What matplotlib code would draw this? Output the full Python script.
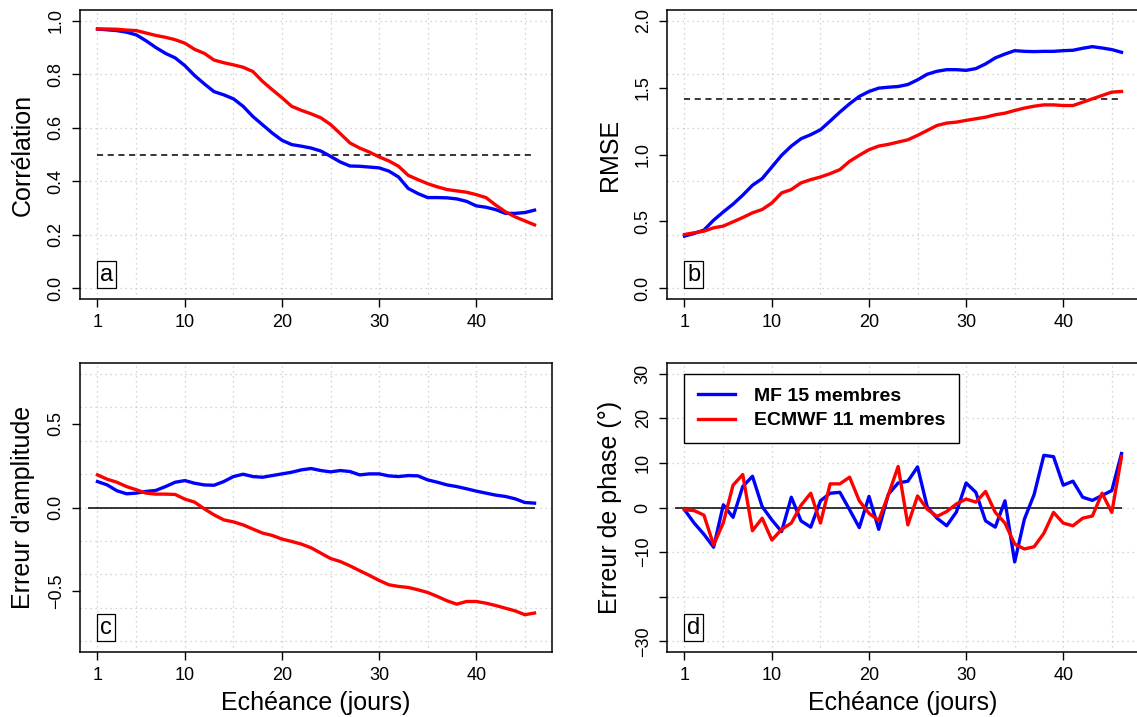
import matplotlib
matplotlib.use("Agg")
import matplotlib.pyplot as plt
import numpy as np

plt.rcParams["font.family"] = ["Liberation Sans", "DejaVu Sans"]

# --- données ---

days = np.arange(1, 47)

corr_mf = [0.969, 0.966, 0.963, 0.957, 0.947, 0.925, 0.900, 0.878, 0.861, 0.832,
           0.795, 0.764, 0.735, 0.723, 0.708, 0.680, 0.642, 0.611, 0.580, 0.553,
           0.537, 0.531, 0.524, 0.513, 0.493, 0.472, 0.457, 0.456, 0.453, 0.450,
           0.438, 0.416, 0.373, 0.354, 0.339, 0.339, 0.338, 0.334, 0.325, 0.308,
           0.303, 0.294, 0.280, 0.280, 0.283, 0.292]
corr_ec = [0.969, 0.969, 0.968, 0.965, 0.963, 0.954, 0.945, 0.938, 0.929, 0.916,
           0.893, 0.878, 0.853, 0.843, 0.835, 0.826, 0.810, 0.773, 0.742, 0.712,
           0.680, 0.665, 0.652, 0.637, 0.612, 0.578, 0.543, 0.524, 0.509, 0.491,
           0.476, 0.456, 0.422, 0.406, 0.391, 0.379, 0.369, 0.364, 0.359, 0.350,
           0.339, 0.311, 0.286, 0.267, 0.252, 0.237]

rmse_mf = [0.390, 0.410, 0.435, 0.509, 0.571, 0.629, 0.696, 0.770, 0.820, 0.907,
           0.994, 1.063, 1.118, 1.148, 1.185, 1.250, 1.317, 1.379, 1.434, 1.471,
           1.496, 1.503, 1.508, 1.523, 1.558, 1.600, 1.622, 1.634, 1.634, 1.629,
           1.642, 1.677, 1.722, 1.751, 1.776, 1.771, 1.769, 1.771, 1.771, 1.776,
           1.779, 1.794, 1.806, 1.796, 1.784, 1.764]
rmse_ec = [0.402, 0.415, 0.427, 0.452, 0.465, 0.497, 0.529, 0.564, 0.589, 0.638,
           0.713, 0.738, 0.788, 0.812, 0.832, 0.857, 0.887, 0.949, 0.994, 1.036,
           1.063, 1.076, 1.093, 1.110, 1.143, 1.180, 1.217, 1.235, 1.242, 1.255,
           1.267, 1.279, 1.297, 1.309, 1.329, 1.347, 1.361, 1.371, 1.371, 1.366,
           1.366, 1.391, 1.416, 1.441, 1.466, 1.471]
rmse_ref = np.sqrt(2)

ampl_mf = [0.155, 0.135, 0.100, 0.082, 0.086, 0.096, 0.102, 0.125, 0.151, 0.161,
           0.145, 0.135, 0.133, 0.155, 0.185, 0.199, 0.185, 0.181, 0.191, 0.201,
           0.211, 0.225, 0.233, 0.221, 0.213, 0.221, 0.215, 0.195, 0.201, 0.201,
           0.189, 0.185, 0.191, 0.189, 0.165, 0.151, 0.135, 0.125, 0.112, 0.098,
           0.086, 0.074, 0.066, 0.052, 0.030, 0.026]
ampl_ec = [0.195, 0.169, 0.151, 0.125, 0.106, 0.086, 0.080, 0.080, 0.078, 0.050,
           0.032, -0.008, -0.044, -0.074, -0.086, -0.104, -0.129, -0.153, -0.167, -0.189,
           -0.203, -0.219, -0.241, -0.273, -0.305, -0.323, -0.349, -0.378, -0.406, -0.436,
           -0.462, -0.472, -0.478, -0.492, -0.508, -0.532, -0.558, -0.578, -0.562, -0.562,
           -0.572, -0.586, -0.602, -0.618, -0.641, -0.631]

phase_mf = [-0.5, -3.5, -6.0, -8.9, 0.6, -2.2, 4.7, 7.0, 0.2, -2.8,
            -5.4, 2.3, -3.0, -4.4, 1.5, 3.2, 3.4, -0.5, -4.5, 2.5,
            -4.9, 3.0, 5.5, 5.9, 9.1, 0.1, -2.4, -4.1, -1.0, 5.5,
            3.4, -3.0, -4.4, 1.5, -12.2, -2.6, 2.9, 11.7, 11.4, 5.0,
            5.9, 2.3, 1.6, 2.7, 3.8, 12.1]
phase_ec = [-0.5, -0.7, -1.7, -8.4, -3.4, 5.0, 7.4, -5.2, -2.4, -7.3,
            -4.9, -3.5, 0.5, 3.2, -3.5, 5.3, 5.3, 6.8, 1.5, -1.3,
            -2.9, 2.9, 9.2, -3.9, 2.6, -0.4, -2.0, -0.9, 0.8, 1.9,
            1.2, 3.6, -1.1, -3.5, -8.2, -9.3, -8.8, -5.8, -1.1, -3.5,
            -4.1, -2.4, -1.9, 3.2, -1.1, 11.4]

labels = ["MF 15 membres", "ECMWF 11 membres"]
x_ticks = [1, 10, 20, 30, 40]
x_grid = [1, 5, 10, 15, 20, 25, 30, 35, 40, 45]


# --- mise en forme d'un panneau (style R) ---

def rexp(lo, hi):
    d = 0.04 * (hi - lo)
    return lo - d, hi + d


def setup_panel(ax, ylim, yticks, yticklabels, ygrid, ylabel, letter, xlabel=None):
    ax.set_xlim(*rexp(1, 46))
    ax.set_ylim(*rexp(*ylim))
    for g in x_grid:
        ax.axvline(g, color="#c8c8c8", lw=0.9, ls=(0, (1, 3)), zorder=0)
    for g in ygrid:
        ax.axhline(g, color="#c8c8c8", lw=0.9, ls=(0, (1, 3)), zorder=0)
    ax.set_xticks(x_ticks)
    ax.set_yticks(yticks)
    ax.set_yticklabels(yticklabels)
    ax.tick_params(axis="both", direction="out", length=6, width=1.0,
                   labelsize=13, color="black")
    ax.tick_params(axis="x", pad=5)
    ax.tick_params(axis="y", pad=5, labelrotation=90)
    for lab in ax.get_yticklabels():
        lab.set_verticalalignment("center")
    for s in ax.spines.values():
        s.set_linewidth(1.1)
    ax.set_ylabel(ylabel, fontsize=18)
    ax.yaxis.set_label_coords(-0.095, 0.5)
    if xlabel:
        ax.set_xlabel(xlabel, fontsize=18, labelpad=5)
    ax.annotate(letter, xy=(1, ylim[0]), xytext=(2, 2), textcoords="offset points",
                ha="left", va="bottom", fontsize=17,
                bbox=dict(boxstyle="square,pad=0.12", fc="white", ec="black", lw=0.9))


fig = plt.figure(figsize=(11.37, 7.17), dpi=100)
W, H = 1137, 717
pw, ph = 472 / W, 289 / H
ax_a = fig.add_axes([80 / W, 1 - 299 / H, pw, ph])
ax_b = fig.add_axes([667 / W, 1 - 299 / H, pw, ph])
ax_c = fig.add_axes([80 / W, 1 - 652 / H, pw, ph])
ax_d = fig.add_axes([667 / W, 1 - 652 / H, pw, ph])

lw = 2.4

# a: corrélation
ax_a.hlines(0.5, 1, 46, colors="black", linestyles=(0, (4, 3)), lw=1.1)
ax_a.plot(days, corr_mf, color="blue", lw=lw)
ax_a.plot(days, corr_ec, color="red", lw=lw)
setup_panel(ax_a, (0, 1), [0, 0.2, 0.4, 0.6, 0.8, 1.0],
            ["0.0", "0.2", "0.4", "0.6", "0.8", "1.0"],
            [0, 0.2, 0.4, 0.6, 0.8, 1.0], "Corrélation", "a")

# b: RMSE
ax_b.hlines(rmse_ref, 1, 46, colors="black", linestyles=(0, (4, 3)), lw=1.1)
ax_b.plot(days, rmse_mf, color="blue", lw=lw)
ax_b.plot(days, rmse_ec, color="red", lw=lw)
setup_panel(ax_b, (0, 2), [0, 0.5, 1.0, 1.5, 2.0],
            ["0.0", "0.5", "1.0", "1.5", "2.0"],
            [0, 0.4, 0.8, 1.2, 1.6, 2.0], "RMSE", "b")

# c: erreur d'amplitude
ax_c.hlines(0, 0, 46, colors="black", lw=1.1)
ax_c.plot(days, ampl_mf, color="blue", lw=lw)
ax_c.plot(days, ampl_ec, color="red", lw=lw)
setup_panel(ax_c, (-0.8, 0.8), [-0.5, 0, 0.5], ["\u22120.5", "0.0", "0.5"],
            [-0.8, -0.6, -0.4, -0.2, 0, 0.2, 0.4, 0.6, 0.8],
            "Erreur d'amplitude", "c", xlabel="Echéance (jours)")

# d: erreur de phase
ax_d.hlines(0, 0, 46, colors="black", lw=1.1)
l1, = ax_d.plot(days, phase_mf, color="blue", lw=lw)
l2, = ax_d.plot(days, phase_ec, color="red", lw=lw)
setup_panel(ax_d, (-30, 30), [-30, -20, -10, 0, 10, 20, 30],
            ["\u221230", "", "\u221210", "0", "10", "20", "30"],
            [-30, -20, -10, 0, 10, 20, 30],
            "Erreur de phase (°)", "d", xlabel="Echéance (jours)")

leg = ax_d.legend([l1, l2], labels, loc="upper left", bbox_to_anchor=(1, 30),
                  bbox_transform=ax_d.transData, borderaxespad=0,
                  prop={"weight": "bold", "size": 14}, frameon=True, fancybox=False,
                  handlelength=1.9, handletextpad=1.0, labelspacing=0.35,
                  borderpad=0.7)
leg.get_frame().set_edgecolor("black")
leg.get_frame().set_linewidth(1.0)
leg.get_frame().set_alpha(1)

fig.savefig("out.png", dpi=100)
